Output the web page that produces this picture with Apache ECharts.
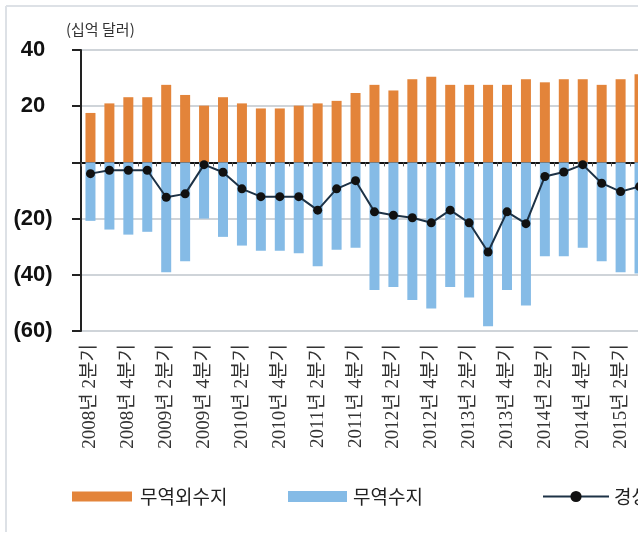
<!DOCTYPE html>
<html>
<head>
<meta charset="utf-8">
<script src="https://cdn.jsdelivr.net/npm/echarts@6/dist/echarts.min.js"></script>
<style>
html,body{margin:0;padding:0;background:#fff;overflow:hidden;width:638px;height:540px;}
#chart{width:660px;height:540px;}
</style>
</head>
<body>
<div id="chart"></div>
<script>
const categories = [
  '2008년 2분기','2008년 3분기','2008년 4분기',
  '2009년 1분기','2009년 2분기','2009년 3분기','2009년 4분기',
  '2010년 1분기','2010년 2분기','2010년 3분기','2010년 4분기',
  '2011년 1분기','2011년 2분기','2011년 3분기','2011년 4분기',
  '2012년 1분기','2012년 2분기','2012년 3분기','2012년 4분기',
  '2013년 1분기','2013년 2분기','2013년 3분기','2013년 4분기',
  '2014년 1분기','2014년 2분기','2014년 3분기','2014년 4분기',
  '2015년 1분기','2015년 2분기','2015년 3분기'
];
const nonTrade = [17.6, 21.0, 23.2, 23.2, 27.6, 24.0, 20.2, 23.2, 21.0, 19.2, 19.2, 20.2, 21.0, 21.9, 24.7, 27.6, 25.6, 29.6, 30.5, 27.6, 27.6, 27.6, 27.6, 29.6, 28.5, 29.6, 29.6, 27.6, 29.6, 31.4];
const trade = [-20.8, -23.9, -25.7, -24.7, -39.1, -35.2, -20.0, -26.5, -29.6, -31.4, -31.4, -32.3, -37.0, -31.1, -30.4, -45.4, -44.3, -49.0, -52.0, -44.3, -48.1, -58.3, -45.4, -50.9, -33.4, -33.4, -30.4, -35.2, -39.1, -39.5];
const current = [-4.0, -2.8, -2.8, -2.8, -12.4, -11.2, -0.8, -3.5, -9.4, -12.2, -12.2, -12.2, -17.0, -9.4, -6.5, -17.6, -18.8, -19.7, -21.5, -17.0, -21.5, -31.9, -17.6, -21.8, -5.0, -3.4, -0.8, -7.4, -10.4, -8.6];
const seriesNames = ['무역외수지', '무역수지', '경상수지'];
const unitLabel = '(십억 달러)';

const chart = echarts.init(document.getElementById('chart'), null, {renderer: 'canvas'});
const legendText = function (padLeft) {
  return {fontFamily: "'Noto Sans CJK KR', sans-serif", fontSize: 19, color: '#222', padding: [0, 0, 0, padLeft]};
};
chart.setOption({
  animation: false,
  backgroundColor: '#fff',
  grid: {left: 81, right: 11, top: 50, bottom: 209, containLabel: false},
  graphic: [
    {type: 'line', shape: {x1: 6, y1: 6, x2: 660, y2: 6}, style: {stroke: '#dde1e6', lineWidth: 2}, silent: true},
    {type: 'line', shape: {x1: 6, y1: 6, x2: 6, y2: 532}, style: {stroke: '#dde1e6', lineWidth: 2}, silent: true},
    {type: 'text', left: 66, top: 22, style: {text: unitLabel, fontFamily: "'Noto Sans CJK KR', serif", fontSize: 15, fill: '#333'}}
  ],
  legend: [
    {data: [seriesNames[0]], left: 72, top: 487, padding: 0, itemWidth: 60, itemHeight: 10, textStyle: legendText(3), icon: 'rect'},
    {data: [seriesNames[1]], left: 288, top: 487, padding: 0, itemWidth: 59, itemHeight: 11, textStyle: legendText(1), icon: 'rect'},
    {data: [seriesNames[2]], left: 542, top: 487, padding: 0, itemWidth: 66, itemHeight: 14, textStyle: legendText(0)}
  ],
  xAxis: [
    {
      type: 'category', data: categories, position: 'bottom',
      axisLine: {show: false, onZero: false}, axisTick: {show: false},
      axisLabel: {
        interval: 1, rotate: 90, margin: 13,
        fontFamily: "'Liberation Serif', 'Noto Sans CJK KR', serif", fontSize: 19, color: '#333'
      },
      splitLine: {show: false}
    },
    {
      type: 'category', data: categories, position: 'top',
      axisLine: {show: true, onZero: true, lineStyle: {color: '#111', width: 2}},
      axisTick: {show: true, inside: true, interval: 0, length: 4, lineStyle: {color: '#555', width: 1}},
      axisLabel: {show: false},
      splitLine: {show: false}
    }
  ],
  yAxis: {
    type: 'value', min: -60, max: 40, interval: 20,
    axisLine: {show: true, lineStyle: {color: '#222', width: 2}},
    axisTick: {show: true, length: 9, lineStyle: {color: '#222', width: 2}},
    axisLabel: {
      margin: 48, align: 'center',
      fontFamily: "'Liberation Sans', Arial, sans-serif", fontSize: 22, fontWeight: 'bold', color: '#111',
      formatter: function (v) { return v === 0 ? '' : (v < 0 ? '(' + (-v) + ')' : String(v)); }
    },
    splitLine: {show: true, lineStyle: {color: '#cfd4d9', width: 2}}
  },
  series: [
    {name: seriesNames[0], type: 'bar', data: nonTrade, barWidth: 10, barGap: '-100%', itemStyle: {color: '#e3843a'}, z: 2},
    {name: seriesNames[1], type: 'bar', data: trade, barWidth: 10, barGap: '-100%', itemStyle: {color: '#85bbe6'}, z: 2},
    {name: seriesNames[2], type: 'line', data: current, symbol: 'circle', symbolSize: 9,
     lineStyle: {color: '#1d3246', width: 2}, itemStyle: {color: '#111'}, z: 5}
  ]
});
</script>
</body>
</html>
